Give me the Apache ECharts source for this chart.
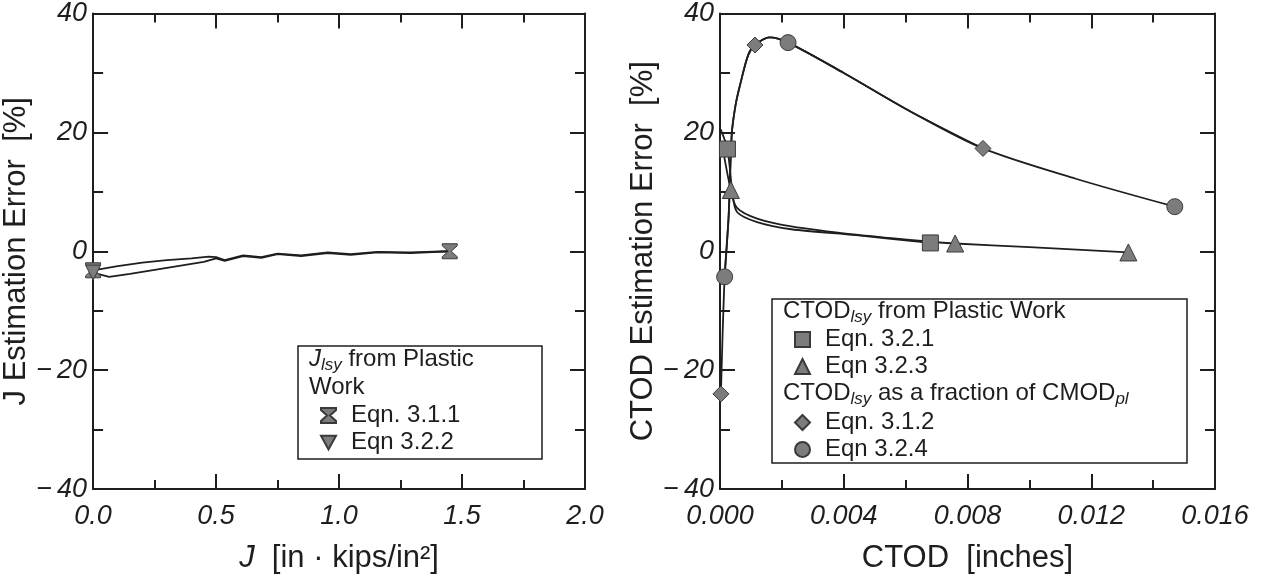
<!DOCTYPE html>
<html>
<head>
<meta charset="utf-8">
<script src="https://cdn.jsdelivr.net/npm/echarts@6/dist/echarts.min.js"></script>
<style>
html,body{margin:0;padding:0;background:#fff;}
#c{width:1272px;height:579px;}
</style>
</head>
<body>
<div id="c"></div>
<script>
// ---------- Left panel: J estimation error ----------
const jTicks = [0.0, 0.5, 1.0, 1.5, 2.0];
const j311X = [0, 0.1, 0.2, 0.3, 0.4, 0.47, 0.5, 0.535, 0.61, 0.684, 0.75, 0.846, 0.954, 1.048, 1.156, 1.29, 1.45];
const j311Y = [-3.2, -2.5, -1.9, -1.5, -1.2, -0.9, -1.0, -1.5, -0.7, -1.0, -0.4, -0.7, -0.2, -0.5, -0.1, -0.2, 0.0];
const j311Marks = [0, 16];
const j322X = [0, 0.065, 0.15, 0.3, 0.45, 0.5, 0.535, 0.61, 0.684, 0.75, 0.846, 0.954, 1.048, 1.156, 1.29, 1.45];
const j322Y = [-3.6, -4.3, -3.8, -2.8, -1.8, -1.2, -1.6, -0.8, -1.1, -0.5, -0.8, -0.3, -0.6, -0.2, -0.3, 0.0];
const j322Marks = [0];

// ---------- Right panel: CTOD estimation error ----------
const ctod321X = [0.00002, 0.00024, 0.0004, 0.00055, 0.0012, 0.0023, 0.0044, 0.0068];
const ctod321Y = [20.5, 17.2, 10, 6.6, 4.9, 3.7, 2.7, 1.4];
const ctod321Marks = [1, 7];
const ctod323X = [0.0001, 0.00035, 0.00055, 0.0012, 0.0023, 0.0044, 0.0068, 0.0076, 0.0100, 0.0132];
const ctod323Y = [17, 10.3, 7.3, 5.5, 4.2, 2.8, 1.6, 1.3, 0.7, -0.2];
const ctod323Marks = [1, 7, 9];
const ctod312X = [0.00003, 0.00015, 0.00028, 0.00038, 0.0005, 0.00065, 0.00091, 0.00113, 0.0016, 0.0022, 0.0040, 0.0062, 0.0085];
const ctod312Y = [-24, -4.3, 6, 19.7, 24.5, 28, 33, 34.7, 36, 35.1, 30.0, 23.4, 17.3];
const ctod312Marks = [0, 7, 12];
const ctod324X = [0.00015, 0.00028, 0.00038, 0.0005, 0.00065, 0.00091, 0.00113, 0.0016, 0.0022, 0.0040, 0.0062, 0.0085, 0.0115, 0.0147];
const ctod324Y = [-4.3, 6, 19.7, 24.5, 28, 33, 34.7, 36, 35.1, 30.0, 23.4, 17.3, 12.2, 7.5];
const ctod324Marks = [0, 8, 13];

const yTicks = [-40, -20, 0, 20, 40];

function pairs(xs, ys){ return xs.map((x,i)=>[x, ys[i]]); }
function marked(sym, idx){ return (v, p) => idx.includes(p.dataIndex) ? sym : 'none'; }

const FONT = 'Liberation Sans, Arial, Helvetica, sans-serif';
const INK = '#1e1e1e';
const MARK = '#7c7c7c';
const hourglass = 'path://M0,0 L12,0 L12,1.6 L7.2,6 L12,10.4 L12,12 L0,12 L0,10.4 L4.8,6 L0,1.6 Z';

function minus(v){ return v < 0 ? '\u2212\u2009' + Math.abs(v) : String(v); }

function xAxisPair(gridIndex, min, max, interval, fmt, name, rich){
  const common = {
    type:'value', gridIndex, min, max, interval,
    axisLine:{show:true, onZero:false, lineStyle:{color:INK, width:2}},
    axisTick:{show:true, inside:true, length:15, lineStyle:{color:INK, width:2}},
    minorTick:{show:true, splitNumber:2, length:9, lineStyle:{color:INK, width:2}},
    splitLine:{show:false}, minorSplitLine:{show:false}
  };
  return [
    Object.assign({}, common, {
      position:'bottom',
      axisLabel:{show:true, color:INK, fontFamily:FONT, fontSize:27, fontStyle:'italic', margin:14, formatter:fmt},
      name, nameLocation:'middle', nameGap:54,
      nameTextStyle:{color:INK, fontFamily:FONT, fontSize:31, rich}
    }),
    Object.assign({}, common, {position:'top', axisLabel:{show:false}})
  ];
}
function yAxisPair(gridIndex, name, gap){
  const common = {
    type:'value', gridIndex, min:-40, max:40, interval:20,
    axisLine:{show:true, onZero:false, lineStyle:{color:INK, width:2}},
    axisTick:{show:true, inside:true, length:15, lineStyle:{color:INK, width:2}},
    minorTick:{show:true, splitNumber:2, length:10, lineStyle:{color:INK, width:2}},
    splitLine:{show:false}, minorSplitLine:{show:false}
  };
  return [
    Object.assign({}, common, {
      position:'left',
      axisLabel:{show:true, color:INK, fontFamily:FONT, fontSize:27, fontStyle:'italic', margin:6, formatter:minus},
      name, nameLocation:'middle', nameGap:gap,
      nameTextStyle:{color:INK, fontFamily:FONT, fontSize:31}
    }),
    Object.assign({}, common, {position:'right', axisLabel:{show:false}})
  ];
}

const xAxes = [
  ...xAxisPair(0, 0, 2.0, 0.5, v => v.toFixed(1), '{i|J}  [in · kips/in\u00B2]',
     {i:{fontStyle:'italic', fontSize:31, color:INK, fontFamily:FONT}}),
  ...xAxisPair(1, 0, 0.016, 0.004, v => v.toFixed(3), 'CTOD  [inches]', null)
];
const yAxes = [
  ...yAxisPair(0, 'J Estimation Error  [%]', 45),
  ...yAxisPair(1, 'CTOD Estimation Error  [%]', 44)
];

function lineSeries(name, xi, yi, data, symbol, marks, size, extra){
  return Object.assign({
    name, type:'line', xAxisIndex:xi, yAxisIndex:yi,
    data, symbol: marked(symbol, marks), symbolSize:size, showSymbol:true,
    lineStyle:{color:INK, width:1.8},
    itemStyle:{color:MARK, borderColor:'#3a3a3a', borderWidth:1},
    z:3
  }, extra || {});
}

const series = [
  lineSeries('Eqn. 3.1.1', 0, 0, pairs(j311X, j311Y), hourglass, j311Marks, 15),
  lineSeries('Eqn 3.2.2', 0, 0, pairs(j322X, j322Y), 'triangle', j322Marks, 15, {symbolRotate:180}),
  lineSeries('Eqn. 3.2.1', 2, 2, pairs(ctod321X, ctod321Y), 'rect', ctod321Marks, 16, {smooth:0.3}),
  lineSeries('Eqn 3.2.3', 2, 2, pairs(ctod323X, ctod323Y), 'triangle', ctod323Marks, 17, {smooth:0.3}),
  lineSeries('Eqn. 3.1.2', 2, 2, pairs(ctod312X, ctod312Y), 'diamond', ctod312Marks, 16, {smooth:0.3}),
  lineSeries('Eqn 3.2.4', 2, 2, pairs(ctod324X, ctod324Y), 'circle', ctod324Marks, 16, {smooth:0.3})
];

const legendText = {color:INK, fontFamily:FONT, fontSize:24, lineHeight:27, padding:[0,0,0,10]};
function legend(left, top, items){
  return {
    orient:'vertical', left, top, itemWidth:15, itemHeight:15, itemGap:0,
    selectedMode:false, textStyle:legendText, data:items
  };
}

const hdrRich = {
  n:{fontFamily:FONT, fontSize:24, color:INK, lineHeight:30, verticalAlign:'middle'},
  i:{fontFamily:FONT, fontSize:24, color:INK, fontStyle:'italic', lineHeight:30, verticalAlign:'middle'},
  s:{fontFamily:FONT, fontSize:17, color:INK, fontStyle:'italic', lineHeight:17, verticalAlign:'bottom'}
};
function hdr(x, yCenter, text){
  return {type:'text', left:x, top:yCenter-15, z:10,
    style:{text, rich:hdrRich, fill:INK, font:'24px ' + FONT}};
}

const option = {
  animation:false,
  backgroundColor:'#ffffff',
  grid:[
    {left:91, top:11, width:494, height:482, show:false},
    {left:720, top:10, width:495, height:482, show:false}
  ],
  xAxis:xAxes,
  yAxis:yAxes,
  legend:[
    legend(315, 397, [{name:'Eqn. 3.1.1', icon:hourglass}, {name:'Eqn 3.2.2', icon:'path://M0,0 L12,0 L6,11 Z'}]),
    legend(789, 321, [{name:'Eqn. 3.2.1', icon:'rect'}, {name:'Eqn 3.2.3', icon:'triangle'}]),
    legend(789, 404, [{name:'Eqn. 3.1.2', icon:'diamond'}, {name:'Eqn 3.2.4', icon:'circle'}])
  ],
  graphic:[
    {type:'rect', shape:{x:298, y:346, width:244, height:113}, style:{fill:'none', stroke:INK, lineWidth:1.5}, z:5},
    {type:'rect', shape:{x:772, y:299, width:415, height:164}, style:{fill:'none', stroke:INK, lineWidth:1.5}, z:5},
    hdr(309, 362, '{i|J}{s|lsy}{n| from Plastic}'),
    hdr(309, 390, '{n|Work}'),
    hdr(783, 314, '{n|CTOD}{s|lsy}{n| from Plastic Work}'),
    hdr(783, 396, '{n|CTOD}{s|lsy}{n| as a fraction of CMOD}{s|pl}')
  ],
  series
};

const chart = echarts.init(document.getElementById('c'), null, {renderer:'canvas'});
chart.setOption(option);
</script>
</body>
</html>
